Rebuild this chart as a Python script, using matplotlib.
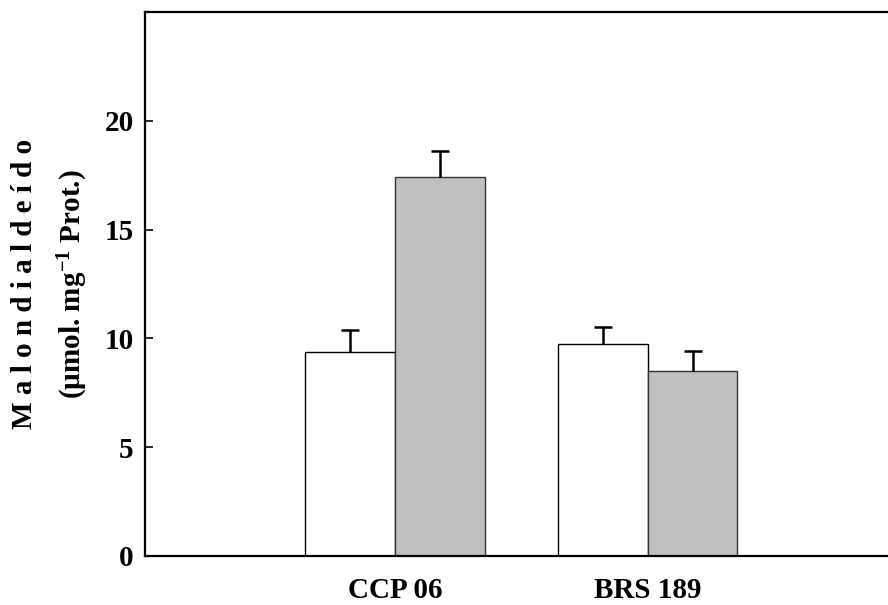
import matplotlib.pyplot as plt
import numpy as np

plt.rcParams["font.family"] = ["Liberation Serif", "DejaVu Serif"]
plt.rcParams["font.weight"] = "bold"
plt.rcParams["mathtext.fontset"] = "custom"
plt.rcParams["mathtext.rm"] = "Liberation Serif:bold"
plt.rcParams["mathtext.it"] = "Liberation Serif:bold"
plt.rcParams["mathtext.bf"] = "Liberation Serif:bold"

cultivars = ["CCP 06", "BRS 189"]
control = [9.37, 9.74]
control_err = [1.04, 0.78]
stress = [17.40, 8.49]
stress_err = [1.22, 0.93]


def upper_err(ax, xs, ys, errs):
    # only the upper half of the error bar, with a cap on top
    xs = np.asarray(xs)
    tops = np.asarray(ys) + np.asarray(errs)
    ax.vlines(xs, ys, tops, color="black", linewidth=1.8, zorder=3)
    ax.plot(xs, tops, linestyle="none", marker="_", markersize=12.5,
            markeredgewidth=1.8, color="black", zorder=3)


def draw():
    fig = plt.figure(figsize=(8.88, 6.05), dpi=100)
    ax = fig.add_axes([0.163, 0.081, 0.837, 0.899])

    x = np.arange(1, len(cultivars) + 1)
    w = 0.355

    ax.bar(x - w / 2, control, w, color="white", edgecolor="black", linewidth=1.0)
    ax.bar(x + w / 2, stress, w, color="#c0c0c0", edgecolor="#333333", linewidth=1.0)
    upper_err(ax, x - w / 2, control, control_err)
    upper_err(ax, x + w / 2, stress, stress_err)

    ax.set_xlim(0.01, 0.01 + 741 / 252)
    ax.set_ylim(0, 25)
    ax.set_yticks([0, 5, 10, 15, 20])
    ax.set_xticks(x)
    ax.set_xticklabels(cultivars)
    ax.tick_params(axis="y", direction="in", length=6, width=1.2, labelsize=21, pad=8)
    ax.tick_params(axis="x", length=0, labelsize=21, pad=15)
    ax.spines["right"].set_visible(False)
    for s in ["left", "top", "bottom"]:
        ax.spines[s].set_linewidth(1.6)

    fig.text(0.028, 0.531, "M a l o n d i a l d e í d o", rotation=90,
             ha="center", va="center", fontsize=21, fontweight="bold")
    fig.text(0.082, 0.531, r"(µmol. mg$^{-1}$ Prot.)", rotation=90,
             ha="center", va="center", fontsize=21, fontweight="bold")

    fig.savefig("out.png", dpi=100)


if __name__ == "__main__":
    draw()
